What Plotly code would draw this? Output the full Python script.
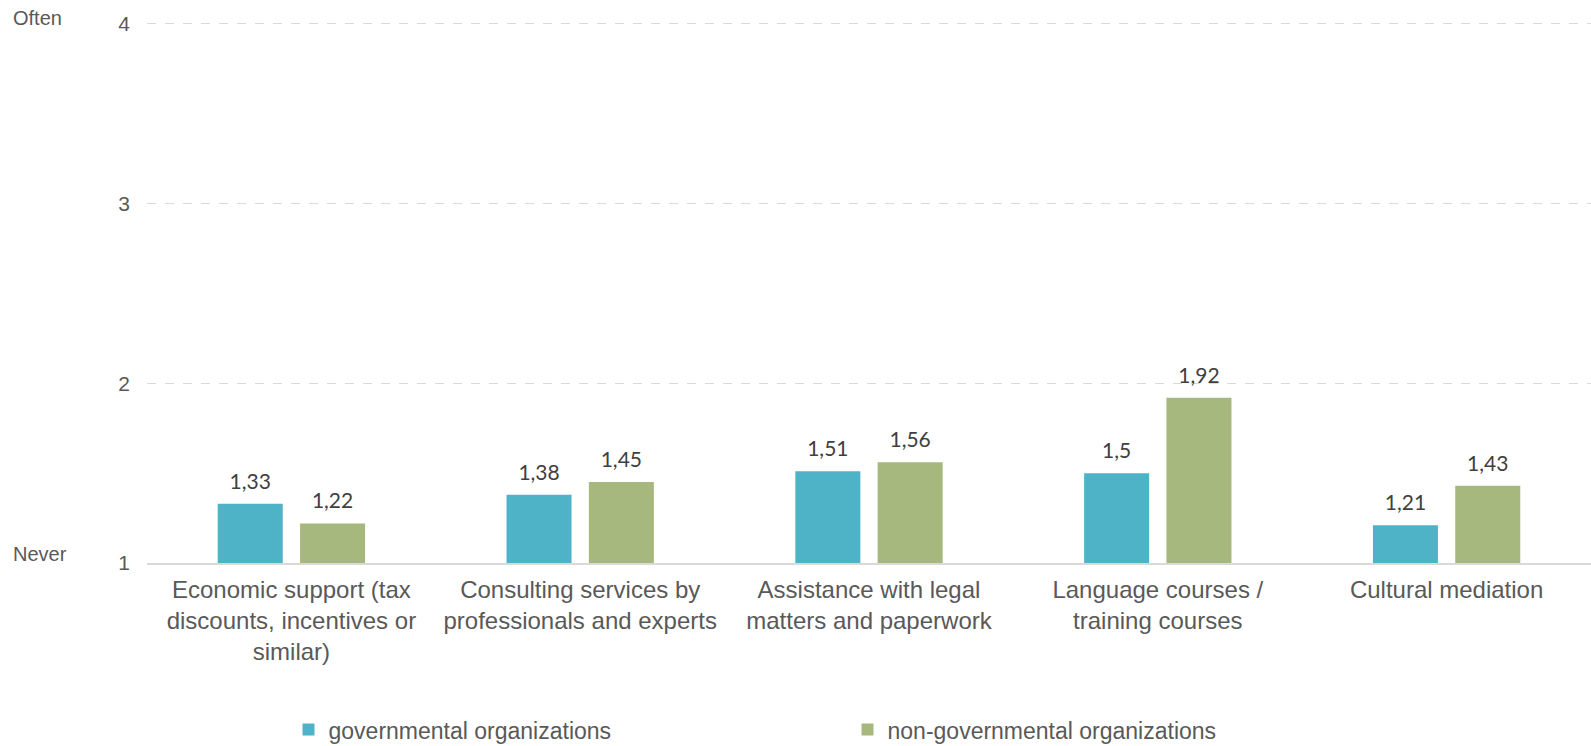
import plotly.graph_objects as go

categories = [
    "Economic support (tax<br>discounts, incentives or<br>similar)",
    "Consulting services by<br>professionals and experts",
    "Assistance with legal<br>matters and paperwork",
    "Language courses /<br>training courses",
    "Cultural mediation",
]
governmental = [1.33, 1.38, 1.51, 1.50, 1.21]
non_governmental = [1.22, 1.45, 1.56, 1.92, 1.43]
series_names = ["governmental organizations", "non-governmental organizations"]
tick_values = [1, 2, 3, 4]

BLUE = "#4FB3C8"
GREEN = "#A7B87E"
GAP = 0.43

def fmt(v):
    s = ("%.2f" % v).rstrip("0").rstrip(".")
    return s.replace(".", ",")

fig = go.Figure()
for name, vals, color in [(series_names[0], governmental, BLUE),
                          (series_names[1], non_governmental, GREEN)]:
    fig.add_trace(go.Bar(
        x=categories, y=vals, name=name, marker_color=color,
        marker_line_width=0, offsetgroup=name,
    ))
# value labels floating above each bar
for name, vals in [(series_names[0], governmental), (series_names[1], non_governmental)]:
    fig.add_trace(go.Scatter(
        x=categories, y=vals, mode="markers+text", offsetgroup=name,
        text=[fmt(v) for v in vals], textposition="top center",
        marker=dict(size=14, color="rgba(0,0,0,0)"),
        textfont=dict(family="Lato, Carlito, Calibri, sans-serif", size=21, color="#404040"),
        showlegend=False, hoverinfo="skip",
    ))

fig.update_layout(
    width=1591, height=746,
    margin=dict(l=147, r=0, t=22, b=183, autoexpand=False),
    paper_bgcolor="white", plot_bgcolor="white",
    barmode="group", bargap=GAP, bargroupgap=0.21,
    scattermode="group", scattergap=GAP,
    font=dict(family="Liberation Sans, Arial, sans-serif", size=21, color="#595959"),
    legend=dict(
        orientation="h", x=0.098, xanchor="left", y=-0.308, yanchor="middle",
        entrywidth=514, entrywidthmode="pixels", borderwidth=0,
        font=dict(size=23, color="#595959"), itemwidth=30, tracegroupgap=0,
    ),
    showlegend=True,
)
fig.update_xaxes(
    showline=True, linecolor="#D9D9D9", linewidth=2, ticks="", automargin=False,
    tickfont=dict(size=24, color="#595959"), ticklabelstandoff=4,
)
fig.update_yaxes(
    range=[1, 4.01], tickvals=tick_values, showgrid=True, gridcolor="#D9D9D9",
    griddash="dash", gridwidth=1, zeroline=False, ticks="", automargin=False,
    tickfont=dict(size=21, color="#595959"), ticklabelstandoff=16,
)
fig.add_annotation(x=0, xref="paper", xanchor="left", xshift=-136, y=4, yref="y",
                   text="Often", showarrow=False, yshift=6,
                   font=dict(size=20, color="#595959"))
fig.add_annotation(x=0, xref="paper", xanchor="left", xshift=-136, y=1, yref="y",
                   text="Never", showarrow=False, yshift=9,
                   font=dict(size=20, color="#595959"))

fig.write_html("out.html")
